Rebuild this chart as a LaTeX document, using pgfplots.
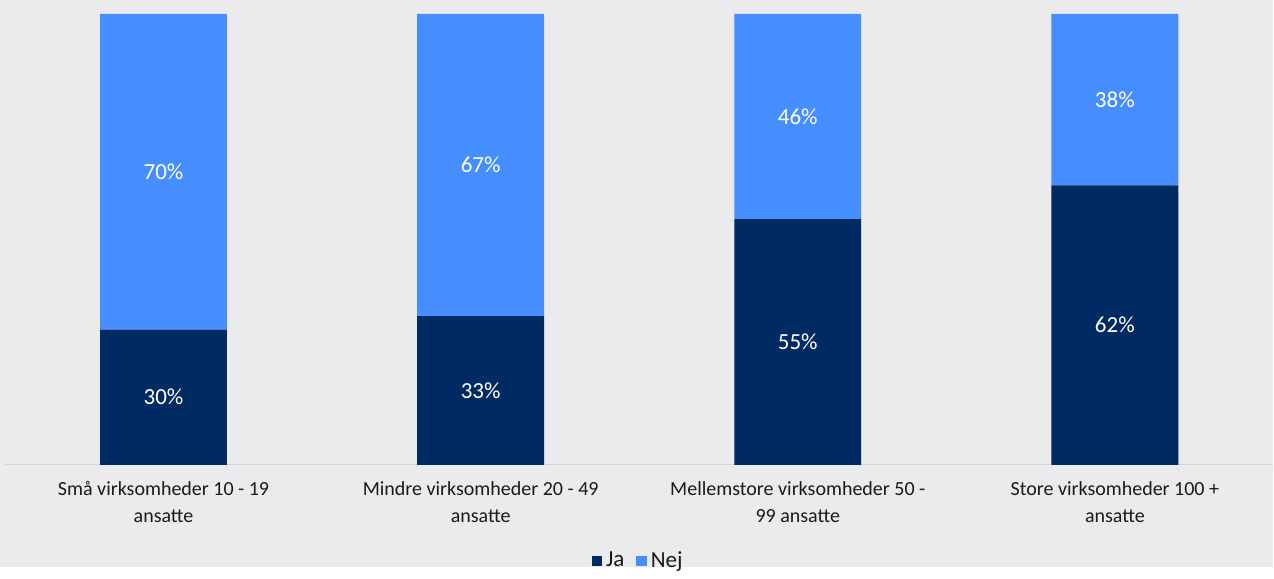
\documentclass[border=0pt]{standalone}
\usepackage{pgfplots}
\pgfplotsset{compat=1.18}
\usepackage{fontspec}
\setmainfont{Carlito}
\pgfdeclarelayer{background}
\pgfsetlayers{background,main}
\definecolor{bg}{HTML}{EBEBED}
\definecolor{ja}{HTML}{002A62}
\definecolor{nej}{HTML}{468EFF}
\definecolor{axl}{HTML}{D3D3D6}
\definecolor{txt}{HTML}{1A1A1A}
\pgfplotsset{base/.style={scale only axis, width=634.5pt, height=225.5pt,
 xmin=-0.5, xmax=3.5, ymin=0, ymax=100}}
\begin{document}
\begin{tikzpicture}
\begin{axis}[base, name=ax, ybar stacked, bar width=0.4,
 axis x line*=bottom, axis y line=none, x axis line style={draw=axl, line width=0.6pt, -},
 xtick=data, major tick length=0pt,
 xticklabels={{Små virksomheder 10 - 19\\ansatte},{Mindre virksomheder 20 - 49\\ansatte},{Mellemstore virksomheder 50 -\\99 ansatte},{Store virksomheder 100 +\\ansatte}},
 xticklabel style={align=center, font=\fontsize{10}{13.5}\selectfont, text=txt, yshift=-5pt},
 legend style={at={(0.5,0)}, anchor=center, yshift=-48pt, draw=none, fill=none, legend columns=2, font=\fontsize{11.5}{12}\selectfont, text=txt, /tikz/every even column/.append style={column sep=4pt}},
 legend image code/.code={\fill[#1] (0pt,-2.6pt) rectangle (5.2pt,2.6pt);},
 ]
\addplot[fill=ja, draw=none] table {
x y
0 30
1 33
2 54.5
3 62
};
\addplot[fill=nej, draw=none] table {
x y
0 70
1 67
2 45.5
3 38
};
\legend{Ja,Nej}
\end{axis}
% segment labels, placed at the middle of each segment
\begin{axis}[base, hide axis, point meta=explicit symbolic,
 nodes near coords, nodes near coords align=center,
 every node near coord/.append style={anchor=center, text=white, font=\fontsize{11.5}{12}\selectfont}]
\addplot[draw=none, mark=none] table[meta=l] {
x y l
0 15 30\%
1 16.5 33\%
2 27.25 55\%
3 31 62\%
0 65 70\%
1 66.5 67\%
2 77.25 46\%
3 81 38\%
};
\end{axis}
\begin{pgfonlayer}{background}
\fill[bg] ([xshift=-2.5pt,yshift=-51pt]ax.south west) rectangle ([yshift=7pt]ax.north east);
\end{pgfonlayer}
\end{tikzpicture}
\end{document}
